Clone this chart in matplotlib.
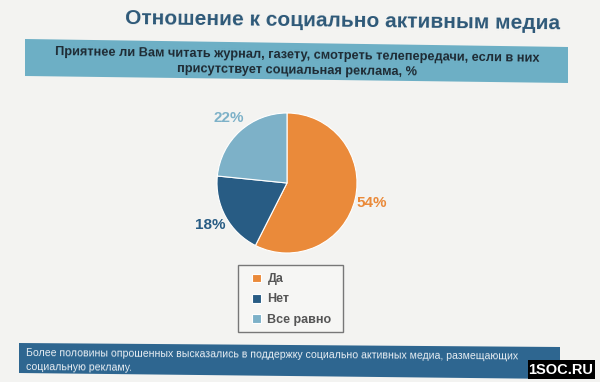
import matplotlib
matplotlib.use("Agg")
import matplotlib.pyplot as plt
from matplotlib.patches import Rectangle, Polygon

plt.rcParams['font.family'] = ['Liberation Sans', 'DejaVu Sans']

# данные опроса
labels = ['Да', 'Нет', 'Все равно']
values = [54, 18, 22]
pct_text = ['54%', '18%', '22%']
colors = ['#EA8A3A', '#285C84', '#7DB1C8']

title = 'Отношение к социально активным медиа'
question = ('Приятнее ли Вам читать журнал, газету, смотреть телепередачи, если в них\n'
            'присутствует социальная реклама, %')
note = ('Более половины опрошенных высказались в поддержку социально активных медиа, размещающих\n'
        'социальную рекламу.')

W, H = 600, 382
fig = plt.figure(figsize=(6, 3.82), dpi=100)
fig.patch.set_facecolor('#F3F3F1')

def fx(x):
    return x / W

def fy(y):
    return 1 - y / H

def pts(xy):
    return [(fx(x), fy(y)) for x, y in xy]

# заголовок (скан чуть наклонён)
fig.text(fx(343), fy(21), title, ha='center', va='center', fontsize=15,
         fontweight='bold', color='#2D5878', rotation=-0.7, rotation_mode='anchor')

# верхняя плашка с вопросом
fig.patches.append(Polygon(pts([(25, 39), (568, 47), (568, 83), (25, 76)]),
                           transform=fig.transFigure, facecolor='#6DAFC5', edgecolor='none'))
fig.text(fx(297), fy(63), question, ha='center', va='center', fontsize=9.2,
         fontweight='bold', color='#1E2A33', linespacing=1.3,
         rotation=-0.8, rotation_mode='anchor')

# круговая диаграмма
r = 70
ax = fig.add_axes([fx(287 - r), fy(183 + r), 2 * r / W, 2 * r / H])
wedges, texts = ax.pie(values, colors=colors, startangle=90, counterclock=False,
                       labels=pct_text, labeldistance=1.25,
                       wedgeprops=dict(edgecolor='white', linewidth=0.8))
for t, c in zip(texts, colors):
    t.set_color(c)
    t.set_fontsize(11)
    t.set_fontweight('bold')
    t.set_ha('center')
ax.set_xlim(-1, 1)
ax.set_ylim(-1, 1)
ax.set_aspect('equal')

# легенда
fig.patches.append(Rectangle((fx(238), fy(332)), fx(105), 67 / H, transform=fig.transFigure,
                             facecolor='#F6F6F4', edgecolor='#777777', linewidth=1.0))
leg = fig.legend(wedges, labels, loc='center', bbox_to_anchor=(fx(292), fy(299.5)),
                 frameon=False, borderpad=0,
                 handlelength=0.7, handleheight=0.7, handletextpad=0.5, labelspacing=0.65,
                 labelcolor='#555555', prop={'weight': 'bold', 'size': 9})

# нижняя плашка
fig.patches.append(Polygon(pts([(19, 343), (560, 347), (560, 379), (19, 373)]),
                           transform=fig.transFigure, facecolor='#2E6690', edgecolor='none'))
fig.text(fx(26), fy(360), note, ha='left', va='center', fontsize=7.6,
         color='#E8EEF3', linespacing=1.5, rotation=-0.4, rotation_mode='anchor')

# водяной знак
fig.patches.append(Rectangle((fx(528), fy(379)), fx(67), 19 / H, transform=fig.transFigure,
                             facecolor='black', edgecolor='none', zorder=5))
fig.text(fx(561), fy(370), '1SOC.RU', ha='center', va='center', fontsize=10.5,
         fontweight='bold', color='white', zorder=6)

fig.savefig('out.png', dpi=100, facecolor=fig.get_facecolor())
